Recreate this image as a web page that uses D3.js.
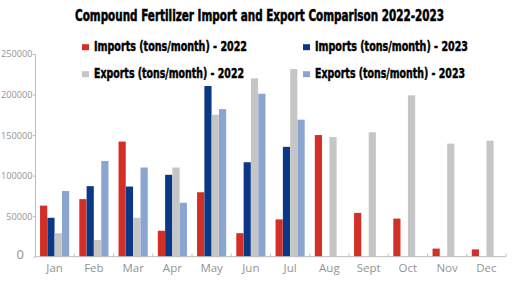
<!DOCTYPE html>
<html>
<head>
<meta charset="utf-8">
<script src="https://cdn.jsdelivr.net/npm/d3@7"></script>
<style>
  body { margin: 0; background: #fff; }
  svg { display: block; }
</style>
</head>
<body>
<div id="chart"></div>
<script>
var svgWidth = 522;
var svgHeight = 295;

// data
var months = ["Jan", "Feb", "Mar", "Apr", "May", "Jun", "Jul", "Aug", "Sept", "Oct", "Nov", "Dec"];
var imports2022 = [63000, 71000, 142000, 32000, 79500, 29000, 46000, 150000, 54000, 47000, 10000, 9000];
var imports2023 = [48000, 87000, 86500, 101000, 210500, 116500, 135500, null, null, null, null, null];
var exports2022 = [29000, 20500, 48000, 110000, 175000, 220000, 231500, 147500, 153500, 199000, 139500, 143000];
var exports2023 = [81000, 118000, 110000, 66500, 182000, 201000, 169000, null, null, null, null, null];
var yTicks = [0, 50000, 100000, 150000, 200000, 250000];

var seriesNames = [
  "Imports (tons/month) - 2022",
  "Imports (tons/month) - 2023",
  "Exports (tons/month) - 2022",
  "Exports (tons/month) - 2023"
];
var seriesColors = ["#d42f26", "#0a3887", "#c6c6c6", "#8ba5d1"];
var seriesValues = [imports2022, imports2023, exports2022, exports2023];

var svg = d3.select("#chart")
  .append("svg")
  .attr("width", svgWidth)
  .attr("height", svgHeight);

var xScale = d3.scaleBand()
  .domain(months)
  .range([35, 506])
  .paddingInner(0.25)
  .paddingOuter(0.125);

var xInner = d3.scaleBand()
  .domain(d3.range(seriesNames.length))
  .range([0, xScale.bandwidth()])
  .padding(0.02);

var yScale = d3.scaleLinear()
  .domain([0, 250000])
  .range([256.7, 54]);

// y axis
var yAxis = svg.append("g")
  .attr("transform", "translate(35,0)")
  .call(d3.axisLeft(yScale).tickValues(yTicks).tickSize(2).tickPadding(0.5).tickFormat(d3.format("d")));
yAxis.select(".domain").attr("stroke", "#bdbdbd");
yAxis.selectAll(".tick line").attr("stroke", "#bdbdbd");
yAxis.selectAll(".tick text")
  .attr("fill", "#939393")
  .style("font", "9.2px 'Open Sans', sans-serif");
// the zero label sits further left and larger in the original
yAxis.selectAll(".tick text").filter(d => d === 0)
  .attr("x", -11)
  .attr("dy", "0.1em")
  .style("font-size", "13px");
yAxis.selectAll(".tick line").filter(d => d === 0).remove();

// bars
seriesValues.forEach(function (vals, i) {
  var rows = months.map((m, j) => ({ month: m, value: vals[j] })).filter(d => d.value != null);
  svg.append("g")
    .selectAll("rect")
    .data(rows)
    .enter()
    .append("rect")
    .attr("x", d => xScale(d.month) + xInner(i))
    .attr("y", d => yScale(d.value))
    .attr("width", xInner.bandwidth())
    .attr("height", d => yScale(0) - yScale(d.value))
    .attr("fill", seriesColors[i]);
});

// x axis: baseline with small upward ticks on band edges
var xg = svg.append("g");
xg.append("line")
  .attr("x1", 35).attr("x2", 506)
  .attr("y1", yScale(0)).attr("y2", yScale(0))
  .attr("stroke", "#bdbdbd");
var step = xScale.step();
xg.selectAll(".edge")
  .data(d3.range(1, months.length + 1))
  .enter()
  .append("line")
  .attr("x1", k => 35 + k * step)
  .attr("x2", k => 35 + k * step)
  .attr("y1", yScale(0))
  .attr("y2", yScale(0) - 3)
  .attr("stroke", "#bdbdbd");
xg.selectAll(".mlabel")
  .data(months)
  .enter()
  .append("text")
  .attr("x", d => xScale(d) + xScale.bandwidth() / 2)
  .attr("y", 272)
  .attr("text-anchor", "middle")
  .attr("fill", "#939393")
  .style("font", "11.5px 'Open Sans', sans-serif")
  .text(d => d);

// title
svg.append("text")
  .attr("x", 75)
  .attr("y", 20.5)
  .attr("textLength", 369)
  .attr("lengthAdjust", "spacingAndGlyphs")
  .style("font", "bold 15px 'Liberation Sans Narrow', 'DejaVu Sans Condensed', sans-serif")
  .attr("fill", "#000")
  .attr("stroke", "#000")
  .attr("stroke-width", 0.5)
  .text("Compound Fertilizer Import and Export Comparison 2022-2023");

// legend
var legendPos = [
  { x: 82, y: 50.5, len: 153 },
  { x: 303, y: 50.5, len: 153 },
  { x: 82, y: 77.5, len: 150 },
  { x: 303, y: 77.5, len: 150 }
];
seriesNames.forEach(function (name, i) {
  var p = legendPos[i];
  var g = svg.append("g");
  g.append("rect")
    .attr("x", p.x)
    .attr("y", p.y - 6.3)
    .attr("width", 7)
    .attr("height", 6)
    .attr("fill", seriesColors[i]);
  g.append("text")
    .attr("x", p.x + 12)
    .attr("y", p.y)
    .attr("textLength", p.len)
    .attr("lengthAdjust", "spacingAndGlyphs")
    .style("font", "bold 13.5px 'Liberation Sans Narrow', 'DejaVu Sans Condensed', sans-serif")
    .attr("fill", "#000")
    .attr("stroke", "#000")
    .attr("stroke-width", 0.45)
    .text(name);
});
</script>
</body>
</html>
